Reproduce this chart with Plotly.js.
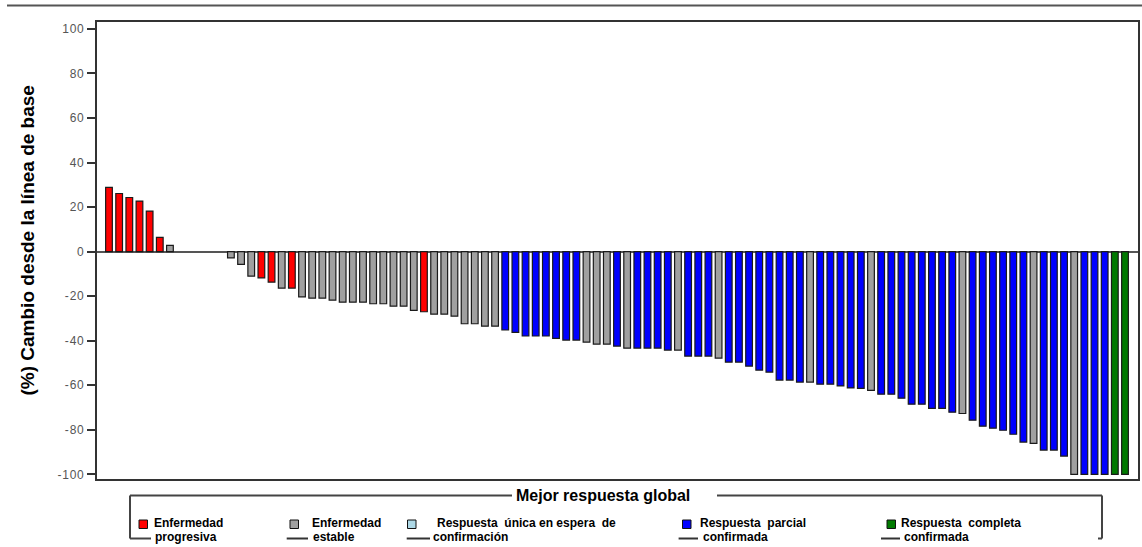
<!DOCTYPE html>
<html>
<head>
<meta charset="utf-8">
<script src="https://cdn.plot.ly/plotly-3.0.1.min.js"></script>
<style>html,body{margin:0;padding:0;background:#fff;}#chart{width:1142px;height:547px;}
.ytick text{letter-spacing:0.8px;}</style>
</head>
<body>
<div id="chart"></div>
<script>
// Change from baseline (%) per patient, sorted; null = no measurement drawn
const cambio = [28.8,26.1,24.3,22.7,18.2,6.4,2.8, null,null,null,null,null,
-2.8,-5.7,-11.0,-11.8,-13.7,-16.4,-16.4,-20.3,-20.9,-20.9,
-21.8,-22.7,-22.7,-22.7,-23.4,-23.4,-24.5,-24.5,-26.4,-27.0,
-28.1,-28.1,-29.0,-32.4,-32.4,-33.5,-33.5,-35.2,-36.3,-37.9,
-37.9,-37.9,-39.0,-39.7,-39.7,-40.6,-41.5,-41.5,-42.4,-43.3,
-43.3,-43.3,-43.3,-44.2,-44.2,-46.9,-46.9,-46.9,-47.8,-49.6,
-49.6,-51.4,-53.2,-54.1,-57.7,-57.7,-58.6,-58.6,-59.5,-59.5,
-60.3,-61.2,-61.4,-62.3,-64.0,-64.0,-65.8,-68.5,-68.5,-70.4,
-70.4,-72.1,-72.7,-75.7,-78.4,-79.3,-80.2,-82.0,-85.5,-86.1,
-89.1,-89.1,-91.8,-100,-100,-100,-100,-100,-100];

// Best overall response per patient
const respuesta = ['EP','EP','EP','EP','EP','EP','EE', null,null,null,null,null,
'EE','EE','EE','EP','EP','EE','EP','EE','EE','EE',
'EE','EE','EE','EE','EE','EE','EE','EE','EE','EP',
'EE','EE','EE','EE','EE','EE','EE','RP','RP','RP',
'RP','RP','RP','RP','RP','EE','EE','EE','RP','EE',
'RP','RP','RP','RP','EE','RP','RP','RP','EE','RP',
'RP','RP','RP','RP','RP','RP','RP','EE','RP','RP',
'RP','RP','RP','EE','RP','RP','RP','RP','RP','RP',
'RP','RP','EE','RP','RP','RP','RP','RP','RP','EE',
'RP','RP','RP','EE','RP','RP','RP','RC','RC'];

const categoriaCodigos = ['EP','EE','RU','RP','RC'];
const categoriaLinea1 = ['Enfermedad','Enfermedad','Respuesta  única en espera  de','Respuesta  parcial','Respuesta  completa'];
const categoriaLinea2 = ['progresiva','estable','confirmación','confirmada','confirmada'];
const categoriaColores = ['#ff0000','#a0a0a0','#add8e6','#0000ff','#007a00'];
const yTicks = [100,80,60,40,20,0,-20,-40,-60,-80,-100];

const colorDe = {};
categoriaCodigos.forEach((c,i)=>colorDe[c]=categoriaColores[i]);

const W=1142,H=547,L=97,R=4,T=22,B=68;
const pw=W-L-R, ph=H-T-B;
const px = X => (X-L)/pw;
const py = Y => (H-B-Y)/ph;
const FONT='Liberation Sans, Arial, sans-serif';

const trace = {
  type:'bar',
  x: cambio.map((v,i)=>i),
  y: cambio,
  marker:{color: respuesta.map(c=>c?colorDe[c]:'#fff'), line:{color:'#1a1a1a',width:1.2}},
  showlegend:false,
  hoverinfo:'y'
};

const shapes = [];
const annotations = [];
const dark='#444';
function line(x0,y0,x1,y1,w,c){shapes.push({type:'line',xref:'paper',yref:'paper',x0:px(x0),y0:py(y0),x1:px(x1),y1:py(y1),line:{color:c||dark,width:w||2}});}

// page top rule
line(7,5.5,1142,5.5,2,'#555');
// legend frame
const fb=538.5;
line(130,495.5,130,fb);
line(130,495.5,512,495.5);
line(717,495.5,1102,495.5);
line(1102,495.5,1102,fb);
line(1098,fb,1102,fb);
line(130,fb,151,fb);

const swX=[139,290,407.5,682.5,887];
const dashX=[[130,151],[286.7,308],[406.7,430],[678.6,698],[881,900]];
const txt1X=[151.5,310,435,698,899];
const txt2X=[152.5,311,430.5,701,901.5];
categoriaCodigos.forEach((c,i)=>{
  shapes.push({type:'rect',xref:'paper',yref:'paper',x0:px(swX[i]),x1:px(swX[i]+8.5),y0:py(520),y1:py(528.5),fillcolor:categoriaColores[i],line:{color:'#111',width:1}});
  if(i>0) line(dashX[i][0],fb,dashX[i][1],fb,2,'#333');
  annotations.push({xref:'paper',yref:'paper',x:px(txt1X[i]),y:py(523),xanchor:'left',yanchor:'middle',showarrow:false,align:'left',
    text:'<b>'+categoriaLinea1[i]+'</b>',font:{family:FONT,size:12,color:'#000'}});
  annotations.push({xref:'paper',yref:'paper',x:px(txt2X[i]),y:py(536.5),xanchor:'left',yanchor:'middle',showarrow:false,align:'left',
    text:'<b>'+categoriaLinea2[i]+'</b>',font:{family:FONT,size:12,color:'#000'}});
});
annotations.push({xref:'paper',yref:'paper',x:px(602.5),y:py(495.5),xanchor:'center',yanchor:'middle',showarrow:false,
  text:'<b>Mejor respuesta global</b>',font:{family:FONT,size:16,color:'#000'}});
annotations.push({xref:'paper',yref:'paper',x:px(27),y:py(240.5),xanchor:'center',yanchor:'middle',showarrow:false,textangle:-90,
  text:'<b>(%) Cambio desde la línea de base</b>',font:{family:FONT,size:19,color:'#000'}});

const layout = {
  width:W,height:H,
  margin:{l:L,r:R,t:T,b:B,pad:0},
  paper_bgcolor:'#fff',plot_bgcolor:'#fff',
  bargap:0.34,
  xaxis:{range:[-1.18,101.28],showticklabels:false,ticks:'',showgrid:false,zeroline:false,showline:true,mirror:true,linecolor:'#333',linewidth:2},
  yaxis:{range:[-102.1,103.1],tickvals:yTicks,ticktext:yTicks.map(String),ticks:'outside',ticklen:8,tickwidth:2,tickcolor:'#333',
    showgrid:false,zeroline:true,zerolinecolor:'#555',zerolinewidth:2,showline:true,mirror:true,linecolor:'#333',linewidth:2,
    tickfont:{family:FONT,size:12,color:'#555'}},
  shapes:shapes,
  annotations:annotations,
  font:{family:FONT}
};

Plotly.newPlot('chart',[trace],layout,{displayModeBar:false,staticPlot:true});
</script>
</body>
</html>
